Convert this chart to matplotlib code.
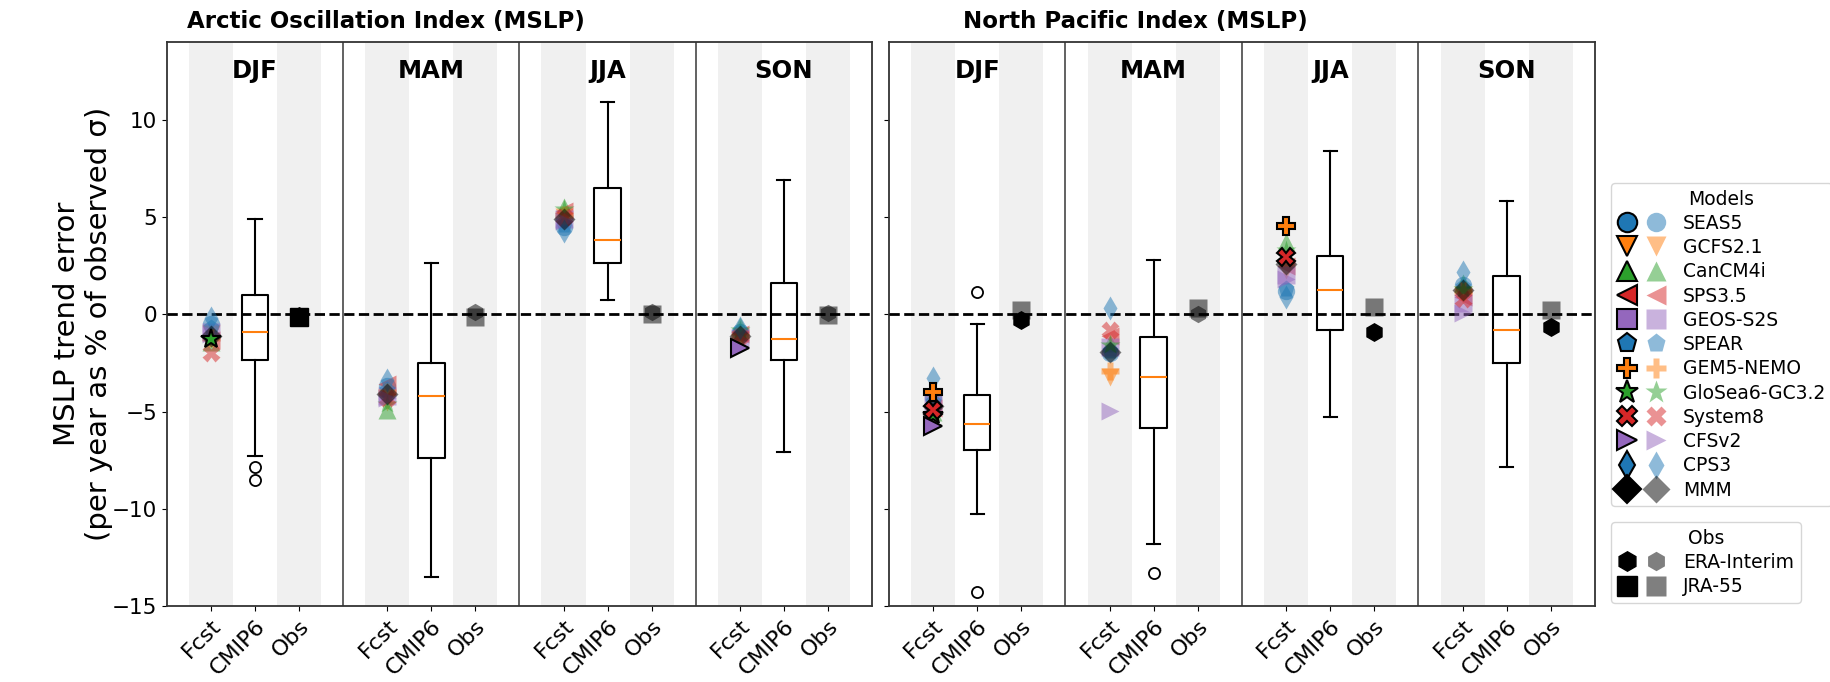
import numpy as np
import matplotlib
matplotlib.use("Agg")
import matplotlib.pyplot as plt
from matplotlib.lines import Line2D
from matplotlib.legend_handler import HandlerTuple

# ---- data ----
seasons = ["DJF", "MAM", "JJA", "SON"]
cats = ["Fcst", "CMIP6", "Obs"]
models = ["SEAS5", "GCFS2.1", "CanCM4i", "SPS3.5", "GEOS-S2S", "SPEAR",
          "GEM5-NEMO", "GloSea6-GC3.2", "System8", "CFSv2", "CPS3", "MMM"]
markers = ["o", "v", "^", "<", "s", "p", "P", "*", "X", ">", "d", "D"]
colors = ["tab:blue", "tab:orange", "tab:green", "tab:red", "tab:purple", "tab:blue",
          "tab:orange", "tab:green", "tab:red", "tab:purple", "tab:blue", "black"]

# forecast trend error, rows = seasons, cols = models
ao_fcst = [[-0.5, -1.0, -1.4, -1.3, -0.9, -0.7, -1.2, -1.25, -2.0, -1.0, -0.2, -1.1],
           [-3.7, -4.5, -4.9, -3.6, -4.2, -3.9, -4.0, -4.6, -4.3, -4.3, -3.4, -4.1],
           [4.5, 5.0, 5.5, 5.3, 4.9, 4.6, 5.1, 5.4, 5.0, 4.8, 4.3, 4.9],
           [-0.9, -1.3, -0.6, -1.0, -1.2, -0.9, -1.1, -0.8, -1.1, -1.75, -0.7, -1.1]]
ao_sig = [[0, 0, 0, 0, 0, 0, 0, 1, 0, 0, 0, 0],
          [0, 0, 0, 0, 0, 0, 0, 0, 0, 0, 0, 0],
          [0, 0, 0, 0, 0, 0, 0, 0, 0, 0, 0, 0],
          [0, 0, 0, 0, 0, 0, 0, 0, 0, 1, 0, 0]]
np_fcst = [[-4.3, -4.3, -5.0, -4.8, -4.6, -4.5, -4.0, -5.2, -4.9, -5.75, -3.3, -4.7],
           [-2.0, -3.2, -1.5, -1.1, -1.7, -1.9, -2.9, -1.6, -0.8, -4.95, 0.3, -1.95],
           [1.2, 2.3, 3.7, 2.5, 2.0, 1.3, 4.56, 3.3, 2.94, 1.8, 0.9, 2.6],
           [1.5, 1.0, 1.6, 0.9, 0.6, 1.4, 1.2, 1.3, 0.8, 0.05, 2.17, 1.23]]
np_sig = [[0, 0, 0, 0, 0, 0, 1, 1, 1, 1, 0, 0],
          [0, 0, 0, 0, 0, 0, 0, 0, 0, 0, 0, 0],
          [0, 0, 0, 0, 0, 0, 1, 0, 1, 0, 0, 0],
          [0, 0, 0, 0, 0, 0, 0, 0, 0, 0, 0, 0]]

# CMIP6 box stats per season: whislo, q1, med, q3, whishi
ao_lo = [-7.3, -13.5, 0.72, -7.1]
ao_q1 = [-2.37, -7.37, 2.65, -2.36]
ao_med = [-0.92, -4.2, 3.8, -1.25]
ao_q3 = [0.98, -2.5, 6.5, 1.6]
ao_hi = [4.9, 2.65, 10.9, 6.9]
ao_fliers = [[-7.86, -8.53], [], [], []]
np_lo = [-10.27, -11.8, -5.27, -7.86]
np_q1 = [-7.0, -5.83, -0.82, -2.5]
np_med = [-5.66, -3.2, 1.23, -0.82]
np_q3 = [-4.15, -1.16, 3.0, 1.97]
np_hi = [-0.48, 2.8, 8.4, 5.8]
np_fliers = [[1.15, -14.3], [-13.3], [], []]

# observations: ERA-Interim, JRA-55
obs_names = ["ERA-Interim", "JRA-55"]
obs_markers = ["h", "s"]
ao_era = [-0.1, 0.1, 0.1, 0.05]
ao_jra = [-0.15, -0.15, 0.0, -0.05]
ao_era_sig = [1, 0, 0, 0]
ao_jra_sig = [1, 0, 0, 0]
np_era = [-0.27, 0.0, -0.9, -0.65]
np_jra = [0.2, 0.3, 0.37, 0.2]
np_era_sig = [1, 0, 1, 1]
np_jra_sig = [0, 0, 0, 0]

titles = ["Arctic Oscillation Index (MSLP)", "North Pacific Index (MSLP)"]


def draw_panel(ax, fcst, sig, lo, q1, med, q3, hi, fliers, era, jra, era_sig, jra_sig):
    for i in range(4):
        x0 = 4 * i
        ax.axvspan(x0 + 0.5, x0 + 1.5, color="#f0f0f0", zorder=0, lw=0)
        ax.axvspan(x0 + 2.5, x0 + 3.5, color="#f0f0f0", zorder=0, lw=0)
        if i > 0:
            ax.axvline(x0, color="#555555", lw=1.3, zorder=1)
        ax.text(x0 + 2, 12.5, seasons[i], ha="center", va="center",
                fontsize=17.5, fontweight="bold")
        # forecasts
        for m in range(len(models)):
            ms = 15 if markers[m] == "*" else 12.5
            if markers[m] == "D":
                ms = 11.5
            if sig[i][m]:
                ax.plot(x0 + 1, fcst[i][m], marker=markers[m], ms=ms, ls="none",
                        mfc=colors[m], mec="k", mew=1.5, zorder=5)
            else:
                ax.plot(x0 + 1, fcst[i][m], marker=markers[m], ms=ms, ls="none",
                        mfc=colors[m], mec="none", alpha=0.5, zorder=4)
        # CMIP6 box
        st = dict(med=med[i], q1=q1[i], q3=q3[i], whislo=lo[i], whishi=hi[i],
                  fliers=fliers[i])
        ax.bxp([st], positions=[x0 + 2], widths=0.6, showfliers=True,
               boxprops=dict(lw=1.5), whiskerprops=dict(lw=1.5),
               capprops=dict(lw=1.5), medianprops=dict(color="tab:orange", lw=1.5),
               flierprops=dict(marker="o", mfc="none", mec="k", ms=8, mew=1.3))
        # obs
        for val, s, mk in [(era[i], era_sig[i], "h"), (jra[i], jra_sig[i], "s")]:
            if s:
                ax.plot(x0 + 3, val, marker=mk, ms=12.5, ls="none", color="k", zorder=5)
            else:
                ax.plot(x0 + 3, val, marker=mk, ms=12.5, ls="none", color="k",
                        alpha=0.5, mec="none", zorder=4)
    ax.axhline(0, color="k", ls="--", lw=2, zorder=3)
    ax.set_xlim(0, 16)
    ax.set_ylim(-15, 14)
    ticks = [4 * i + k for i in range(4) for k in (1, 2, 3)]
    ax.set_xticks(ticks)
    ax.set_xticklabels(cats * 4, rotation=45, ha="right", rotation_mode="anchor",
                       fontsize=16)
    ax.tick_params(axis="y", labelsize=15.5)
    for sp in ax.spines.values():
        sp.set_color("#333333")
        sp.set_linewidth(1.3)


fig = plt.figure(figsize=(18.31, 6.82), dpi=100)
ax1 = fig.add_axes([0.0912, 0.1114, 0.385, 0.827])
ax2 = fig.add_axes([0.4855, 0.1114, 0.3856, 0.827], sharey=ax1)

draw_panel(ax1, ao_fcst, ao_sig, ao_lo, ao_q1, ao_med, ao_q3, ao_hi, ao_fliers,
           ao_era, ao_jra, ao_era_sig, ao_jra_sig)
draw_panel(ax2, np_fcst, np_sig, np_lo, np_q1, np_med, np_q3, np_hi, np_fliers,
           np_era, np_jra, np_era_sig, np_jra_sig)
ax1.set_yticks([-15, -10, -5, 0, 5, 10])
plt.setp(ax2.get_yticklabels(), visible=False)

ax1.set_ylabel("MSLP trend error\n(per year as % of observed σ)", fontsize=21, labelpad=-1)
fig.text(0.211, 0.968, titles[0], ha="center", va="center", fontsize=16.5, fontweight="bold")
fig.text(0.62, 0.968, titles[1], ha="center", va="center", fontsize=16.5, fontweight="bold")

# legends
model_handles = []
for m in range(len(models)):
    ms = 17 if markers[m] == "*" else 14
    dark = Line2D([], [], marker=markers[m], ls="none", ms=ms, mfc=colors[m], mec="k", mew=1.5)
    light = Line2D([], [], marker=markers[m], ls="none", ms=ms, mfc=colors[m], mec="none", alpha=0.5)
    model_handles.append((dark, light))
obs_handles = []
for mk in obs_markers:
    dark = Line2D([], [], marker=mk, ls="none", ms=14, color="k")
    light = Line2D([], [], marker=mk, ls="none", ms=14, color="k", mec="none", alpha=0.5)
    obs_handles.append((dark, light))

leg_kw = dict(loc="upper left", fontsize=13.5, title_fontsize=13.5,
              handler_map={tuple: HandlerTuple(ndivide=None, pad=0.5)},
              handlelength=2.6, labelspacing=0.28, borderpad=0.35,
              handletextpad=0.9, borderaxespad=0)
leg1 = fig.legend(model_handles, models, title="Models",
                  bbox_to_anchor=(0.8798, 0.7317), **leg_kw)
leg2 = fig.legend(obs_handles, obs_names, title="Obs",
                  bbox_to_anchor=(0.8798, 0.2346), **leg_kw)

fig.savefig("out.png", dpi=100)
